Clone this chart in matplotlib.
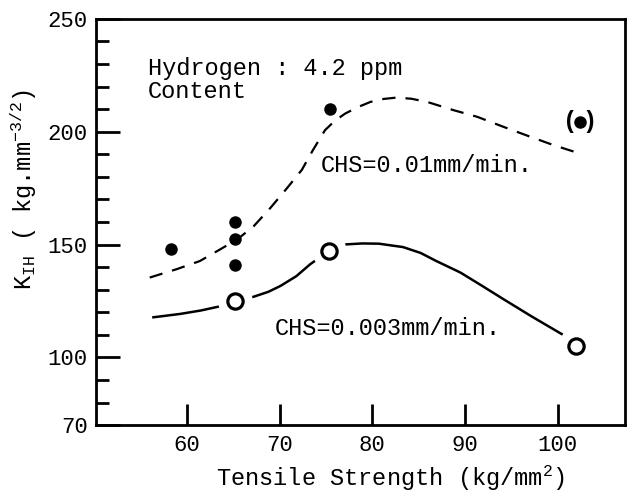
import numpy as np
import matplotlib
matplotlib.use("Agg")
import matplotlib.pyplot as plt

plt.rcParams['font.family'] = ['Liberation Mono', 'DejaVu Sans Mono']
plt.rcParams['mathtext.fontset'] = 'custom'
plt.rcParams['mathtext.rm'] = 'Liberation Mono'
plt.rcParams['mathtext.it'] = 'Liberation Mono'

# measured points, CHS=0.01mm/min (filled)
fast_x = [58.3, 65.2, 65.2, 65.2, 75.4]
fast_y = [148, 160, 152.5, 141, 210]
# the bracketed one at the right
fast_odd_x = [102.4]
fast_odd_y = [204.5]

# measured points, CHS=0.003mm/min (open)
slow_x = [65.2, 75.3, 102.0]
slow_y = [125, 147, 105.2]

# hand drawn trend curves
fast_curve_x = [56.0, 58.9, 61.4, 63.6, 65.5, 67.2, 69.0, 70.8, 72.4, 73.6, 74.9, 76.0, 77.1,
                78.5, 79.8, 81.2, 82.6, 84.2, 85.9, 88.7, 91.3, 94.1, 97.0, 99.5, 101.7]
fast_curve_y = [135.4, 139.1, 142.7, 147.9, 152.5, 158.1, 166.2, 175.0, 183.1, 191.9, 200.7, 205.0, 208.1,
                211.0, 213.2, 214.5, 215.1, 214.6, 213.2, 209.6, 206.6, 202.2, 197.8, 194.1, 191.2]
slow_curve_x = [56.4, 59.3, 61.5, 63.4, 65.2, 67.2, 68.8, 70.1, 71.8, 73.3, 75.3, 76.2, 77.2,
                78.9, 80.7, 83.3, 85.2, 86.9, 89.5, 91.8, 94.1, 97.2, 100.4]
slow_curve_y = [117.8, 119.3, 120.8, 122.5, 124.6, 126.9, 129.1, 131.7, 136.0, 141.3, 147.1, 148.8, 150.1,
                150.5, 150.4, 148.9, 146.3, 142.7, 137.6, 131.8, 125.9, 118.1, 110.4]

fig = plt.figure(figsize=(6.31, 4.95), dpi=100)
ax = fig.add_axes([0.152, 0.141, 0.838, 0.821])

ax.plot(fast_curve_x, fast_curve_y, color='black', lw=1.6, ls=(0, (6, 4.5)), zorder=2,
        solid_joinstyle='round', dash_joinstyle='round')
ax.plot(slow_curve_x, slow_curve_y, color='black', lw=1.8, zorder=2, solid_joinstyle='round')

ax.plot(fast_x, fast_y, 'o', color='black', ms=9, mew=0, zorder=4)
ax.plot(fast_odd_x, fast_odd_y, 'o', color='black', ms=9, mew=0, zorder=4)
ax.text(fast_odd_x[0] - 1.05, fast_odd_y[0], '(', fontsize=17, fontweight='bold', ha='center', va='center')
ax.text(fast_odd_x[0] + 1.05, fast_odd_y[0], ')', fontsize=17, fontweight='bold', ha='center', va='center')

# white gap round the open circles, then the circle
ax.plot(slow_x, slow_y, 'o', color='white', ms=24, zorder=3)
ax.plot(slow_x, slow_y, 'o', mfc='white', mec='black', ms=11, mew=2.3, zorder=4)

ax.text(55.8, 228.2, 'Hydrogen : 4.2 ppm', fontsize=17, va='center', ha='left')
ax.text(55.8, 218.0, 'Content', fontsize=17, va='center', ha='left')
ax.text(74.4, 185.0, 'CHS=0.01mm/min.', fontsize=17, va='center', ha='left')
ax.text(69.5, 113.0, 'CHS=0.003mm/min.', fontsize=17, va='center', ha='left')

ax.set_xlim(50.2, 107.2)
ax.set_ylim(70, 250)
ax.set_xticks([60, 70, 80, 90, 100])
ax.set_yticks([70, 100, 150, 200, 250])
ax.set_yticks(np.arange(80, 250, 10), minor=True)
ax.tick_params(axis='x', direction='in', length=15, width=2, labelsize=16, pad=7, top=False)
ax.tick_params(axis='y', which='major', direction='in', length=17, width=2, labelsize=16, pad=6, right=False)
ax.tick_params(axis='y', which='minor', direction='in', length=9, width=2, right=False)

for s in ax.spines.values():
    s.set_linewidth(2)

ax.set_xlabel('Tensile Strength (kg/mm$^2$)', fontsize=17)
ax.xaxis.set_label_coords(0.558, -0.094)
ax.set_ylabel(r'K$_{\rm IH}$ ( kg.mm$^{-3/2}$)', fontsize=17)
ax.yaxis.set_label_coords(-0.108, 0.58)

fig.savefig('out.png', dpi=100)
